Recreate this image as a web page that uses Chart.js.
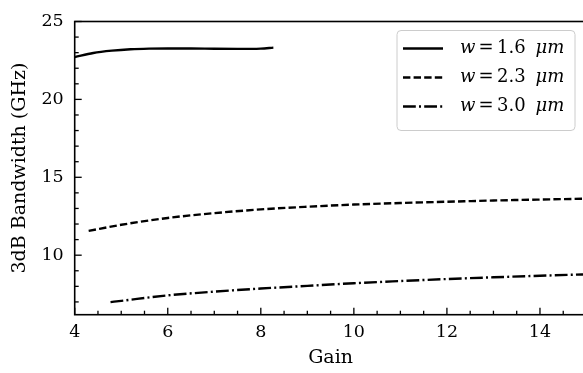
<!DOCTYPE html>
<html>
<head>
<meta charset="utf-8">
<script src="https://cdn.jsdelivr.net/npm/chart.js@4/dist/chart.umd.min.js"></script>
<style>
  html, body { margin: 0; padding: 0; background: #fff; overflow: hidden; }
  #wrap { width: 600px; height: 373px; }
</style>
</head>
<body>
<div id="wrap"><canvas id="c" width="600" height="373"></canvas></div>
<script>
// Series: 3dB bandwidth (GHz) versus gain for three waveguide widths
const widthLabels = ['1.6', '2.3', '3.0'];

const gain16 = [4, 4.4, 4.8, 5.2, 5.6, 6, 6.5, 7, 7.5, 8, 8.27];
const bw16   = [22.71, 22.98, 23.13, 23.22, 23.26, 23.27, 23.27, 23.25, 23.24, 23.26, 23.32];

const gain23 = [4.3, 5, 6, 7, 8, 9, 10, 11, 12, 13, 14, 15];
const bw23   = [11.56, 11.95, 12.39, 12.7, 12.94, 13.11, 13.25, 13.35, 13.43, 13.51, 13.57, 13.63];

const gain30 = [4.77, 5, 6, 7, 8, 9, 10, 11, 12, 13, 14, 15];
const bw30   = [6.99, 7.07, 7.42, 7.66, 7.86, 8.03, 8.2, 8.34, 8.47, 8.58, 8.68, 8.77];

// Axis ticks
const xMajorTicks = [4, 6, 8, 10, 12, 14];
const yMajorTicks = [10, 15, 20, 25];

const dashStyles = [[], [7.4, 3.2], [12.8, 3.2, 2, 3.2]];
const pairs = (xs, ys) => xs.map((x, i) => ({ x: x, y: ys[i] }));
const series = [[gain16, bw16], [gain23, bw23], [gain30, bw30]];

const datasets = series.map((s, i) => ({
  label: 'w = ' + widthLabels[i] + ' μm',
  widthText: widthLabels[i],
  data: pairs(s[0], s[1]),
  borderColor: '#000',
  borderWidth: 2.4,
  borderDash: dashStyles[i],
  pointRadius: 0,
  fill: false,
  cubicInterpolationMode: 'monotone'
}));

const SERIF = "'DejaVu Serif', serif";

// Inward ticks (major + minor), frame and legend
const framePlugin = {
  id: 'frame',
  afterDatasetsDraw(chart) {
    const ctx = chart.ctx;
    const ca = chart.chartArea;
    const xs = chart.scales.x, ys = chart.scales.y;
    ctx.save();
    ctx.strokeStyle = '#000';
    ctx.lineWidth = 1.3;
    // x ticks
    for (let v = xs.min; v <= xs.max + 1e-9; v += 0.5) {
      const px = xs.getPixelForValue(v);
      const major = Math.abs(v / 2 - Math.round(v / 2)) < 1e-9;
      const len = major ? 7 : 4;
      ctx.beginPath();
      ctx.moveTo(px, ca.bottom);
      ctx.lineTo(px, ca.bottom - len);
      ctx.stroke();
    }
    // y ticks
    for (let v = Math.ceil(ys.min); v <= ys.max + 1e-9; v += 1) {
      const py = ys.getPixelForValue(v);
      const len = (v % 5 === 0) ? 7 : 4;
      ctx.beginPath();
      ctx.moveTo(ca.left, py);
      ctx.lineTo(ca.left + len, py);
      ctx.stroke();
    }
    // frame
    ctx.lineWidth = 1.6;
    ctx.strokeRect(ca.left, ca.top, ca.right - ca.left, ca.bottom - ca.top);

    // legend
    const bw = 178, bh = 100;
    const bx = ca.right - 11.5 - bw, by = ca.top + 9;
    ctx.beginPath();
    ctx.roundRect(bx, by, bw, bh, 4);
    ctx.fillStyle = 'rgba(255,255,255,0.85)';
    ctx.fill();
    ctx.strokeStyle = '#cccccc';
    ctx.lineWidth = 1;
    ctx.stroke();
    const rowY = [18, 47, 76];
    chart.data.datasets.forEach((ds, i) => {
      const y = by + rowY[i];
      ctx.strokeStyle = '#000';
      ctx.lineWidth = 2.4;
      ctx.setLineDash(ds.borderDash);
      ctx.beginPath();
      ctx.moveTo(bx + 6, y);
      ctx.lineTo(bx + 46, y);
      ctx.stroke();
      ctx.setLineDash([]);
      ctx.fillStyle = '#000';
      ctx.textBaseline = 'middle';
      let tx = bx + 63;
      const parts = [
        ['italic 18px ' + SERIF, 'w', 3],
        ['18px ' + SERIF, '=', 3.5],
        ['18px ' + SERIF, ds.widthText, 10],
        ['italic 18px ' + SERIF, 'μm', 0]
      ];
      parts.forEach(p => {
        ctx.font = p[0];
        ctx.fillText(p[1], tx, y);
        tx += ctx.measureText(p[1]).width + p[2];
      });
    });
    ctx.restore();
  }
};

new Chart(document.getElementById('c'), {
  type: 'line',
  data: { datasets: datasets },
  options: {
    responsive: false,
    animation: false,
    layout: { padding: { top: 16, right: 13.5, left: 0, bottom: 0 } },
    plugins: { legend: { display: false }, tooltip: { enabled: false } },
    scales: {
      x: {
        type: 'linear',
        min: 4,
        max: 15,
        afterFit(scale) { scale.height = 58.3; },
        afterBuildTicks(scale) { scale.ticks = xMajorTicks.map(v => ({ value: v })); },
        grid: { display: false, drawTicks: false },
        border: { display: false },
        ticks: {
          padding: 7,
          color: '#000',
          font: { family: SERIF, size: 17.5 },
          maxRotation: 0,
          callback: v => String(v)
        },
        title: {
          display: true,
          text: 'Gain',
          color: '#000',
          font: { family: SERIF, size: 19 },
          padding: { top: 3 }
        }
      },
      y: {
        type: 'linear',
        min: 6.18,
        max: 25,
        afterFit(scale) { scale.width = 74.7; },
        afterBuildTicks(scale) { scale.ticks = yMajorTicks.map(v => ({ value: v })); },
        grid: { display: false, drawTicks: false },
        border: { display: false },
        ticks: {
          padding: 11,
          color: '#000',
          font: { family: SERIF, size: 17.5 },
          callback: v => String(v)
        },
        title: {
          display: true,
          text: '3dB Bandwidth (GHz)',
          color: '#000',
          font: { family: SERIF, size: 19 },
          padding: { top: 8.5 }
        }
      }
    }
  },
  plugins: [framePlugin]
});
</script>
</body>
</html>
